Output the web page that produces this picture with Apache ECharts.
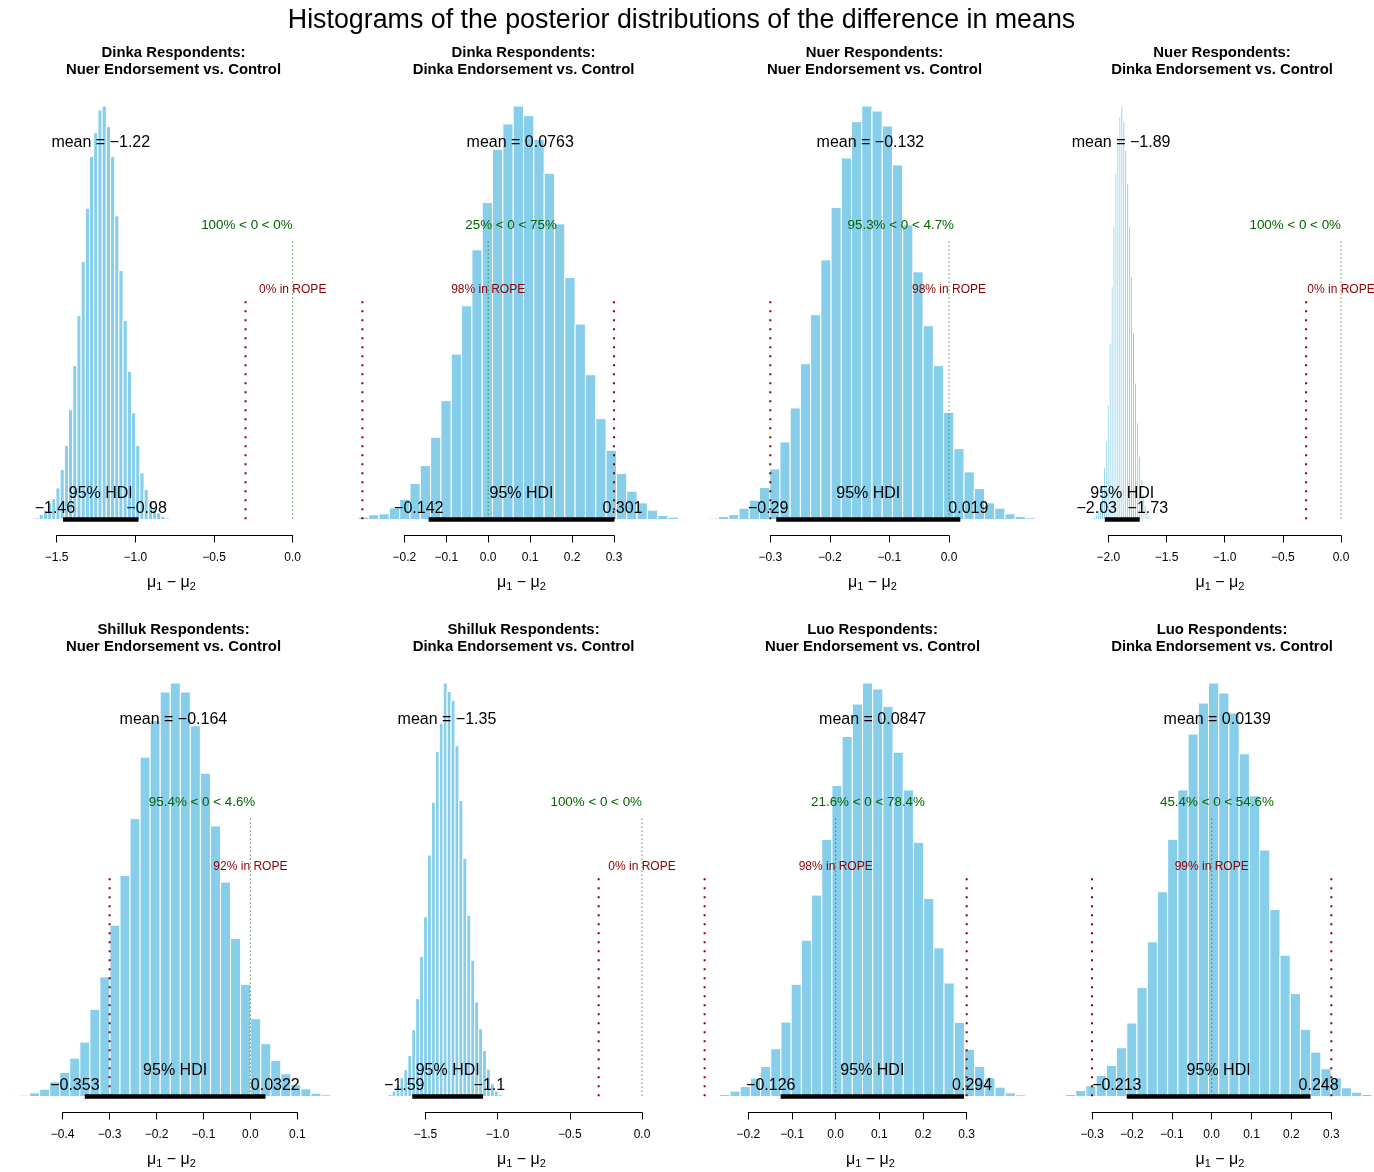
<!DOCTYPE html>
<html>
<head>
<meta charset="utf-8">
<title>Posterior difference in means</title>
<script src="https://cdn.jsdelivr.net/npm/echarts@6/dist/echarts.min.js"></script>
<style>
  html, body { margin: 0; padding: 0; background: #ffffff; }
  #chart { width: 1374px; height: 1172px; }
</style>
</head>
<body>
<div id="chart"></div>
<script>
// ---------------- data ----------------
const mainTitle = 'Histograms of the posterior distributions of the difference in means';

const respondentGroups = [
  'Dinka Respondents:', 'Dinka Respondents:', 'Nuer Respondents:', 'Nuer Respondents:',
  'Shilluk Respondents:', 'Shilluk Respondents:', 'Luo Respondents:', 'Luo Respondents:'
];
const comparisons = [
  'Nuer Endorsement vs. Control', 'Dinka Endorsement vs. Control',
  'Nuer Endorsement vs. Control', 'Dinka Endorsement vs. Control',
  'Nuer Endorsement vs. Control', 'Dinka Endorsement vs. Control',
  'Nuer Endorsement vs. Control', 'Dinka Endorsement vs. Control'
];

const posteriorMeans = [-1.22, 0.0763, -0.132, -1.89, -0.164, -1.35, 0.0847, 0.0139];
const hdiLower = [-1.46, -0.142, -0.29, -2.03, -0.353, -1.59, -0.126, -0.213];
const hdiUpper = [-0.98, 0.301, 0.019, -1.73, 0.0322, -1.1, 0.294, 0.248];
const pctBelowComp = [100, 25, 95.3, 100, 95.4, 100, 21.6, 45.4];
const pctAboveComp = [0, 75, 4.7, 0, 4.6, 0, 78.4, 54.6];
const pctInRope = [0, 98, 98, 0, 92, 0, 98, 99];
const compValue = 0;
const ropeLimits = [-0.3, 0.3];

// histogram breaks: first break and bin width of each panel
const binStarts = [-1.638, -0.3095, -0.404, -2.125, -0.5135, -1.757, -0.2885, -0.392];
const binWidths = [0.02667, 0.02461, 0.01717, 0.01667, 0.02142, 0.02722, 0.02333, 0.02561];

// relative bin heights (tallest bin of each panel about 1240)
const histDinkaNuer = [5, 15, 28, 50, 62, 95, 150, 222, 330, 462, 612, 775, 935, 1090, 1162, 1230,
  1242, 1180, 1090, 912, 748, 598, 445, 320, 222, 140, 90, 50, 32, 20, 10, 5];
const histDinkaDinka = [7, 14, 17, 35, 60, 108, 162, 247, 357, 497, 642, 810, 952, 1112, 1188, 1242,
  1213, 1142, 1040, 888, 727, 587, 435, 303, 208, 138, 85, 50, 28, 12, 7];
const histNuerNuer = [4, 9, 15, 34, 58, 96, 152, 233, 335, 468, 615, 780, 937, 1086, 1195, 1242,
  1227, 1182, 1065, 885, 744, 582, 462, 322, 213, 143, 93, 50, 34, 17, 9, 5];
const histNuerDinka = [8, 15, 28, 50, 95, 155, 235, 345, 530, 700, 880, 1040, 1150, 1210, 1242,
  1195, 1110, 1010, 880, 730, 560, 410, 290, 190, 120, 75, 42, 22, 12, 6];
const histShillukNuer = [2, 4, 11, 22, 44, 72, 115, 163, 261, 358, 513, 662, 832, 1016, 1126, 1211,
  1238, 1211, 1110, 968, 810, 642, 473, 336, 233, 158, 108, 68, 36, 23, 10, 5];
const histShillukDinka = [6, 16, 33, 56, 81, 123, 200, 293, 420, 538, 723, 881, 1033, 1118, 1238,
  1213, 1186, 1050, 886, 713, 543, 408, 283, 203, 138, 82, 38, 16, 6, 2];
const histLuoNuer = [2, 6, 16, 30, 55, 90, 143, 223, 336, 468, 603, 770, 931, 1078, 1175, 1238,
  1220, 1168, 1031, 918, 761, 593, 445, 340, 222, 141, 90, 56, 28, 11, 5, 2];
const histLuoDinka = [2, 6, 18, 32, 63, 93, 146, 220, 326, 463, 613, 770, 918, 1085, 1178, 1238,
  1208, 1148, 1026, 900, 738, 560, 423, 308, 201, 133, 83, 56, 26, 13, 6];

// x-axis ticks of each panel
const tickMin = [-1.5, -0.2, -0.3, -2.0, -0.4, -1.5, -0.2, -0.3];
const tickMax = [0.0, 0.3, 0.0, 0.0, 0.1, 0.0, 0.3, 0.3];
const tickStep = [0.5, 0.1, 0.1, 0.5, 0.1, 0.5, 0.1, 0.1];

// ---------------- layout ----------------
const axisLeftPx = [56.7, 404.3, 770.3, 1108.3, 62.7, 425.3, 748.3, 1092];
const axisRightPx = [292.7, 614, 949, 1341, 297.3, 642, 966.7, 1331.3];
const panelCenterX = [173.5, 523.5, 874.5, 1222, 173.5, 523.5, 872.5, 1222];
const rowOffset = [0, 577];
const PEAK_Y = 106;
const AXIS_Y = 535.5;
const AXIS_DROP = 0.0387;     // gap between zero line and axis, as share of the peak

const FONT = '"Liberation Sans", Arial, Helvetica, sans-serif';
const BAR_FILL = '#87CEEB';
const CV_COLOR = '#006400';
const ROPE_COLOR = '#8B0000';

const measureCtx = document.createElement('canvas').getContext('2d');
function textWidth(str, font) {
  measureCtx.font = font;
  return measureCtx.measureText(str).width;
}
function num(v) { return String(v).replace('-', '\u2212'); }
function tickText(v) {
  if (Math.abs(v) < 1e-9) return '0.0';
  return (v < 0 ? '\u2212' : '') + Math.abs(v).toFixed(1);
}
// text element anchored at a fraction of its own width
function textAt(str, x, y, size, color, frac, weight) {
  const font = (weight ? weight + ' ' : '') + size + 'px ' + FONT;
  const w = textWidth(str, font);
  return {
    type: 'text',
    style: {
      text: str, x: x - frac * w, y: y, font: font, fill: color,
      align: 'left', verticalAlign: 'middle', textAlign: 'left', textVerticalAlign: 'middle'
    }
  };
}
function centeredText(str, x, y, font) {
  return {
    type: 'text', x: x, y: y,
    style: {
      text: str, font: font, fill: '#000',
      align: 'center', verticalAlign: 'middle', textAlign: 'center', textVerticalAlign: 'middle'
    }
  };
}

const histograms = [histDinkaNuer, histDinkaDinka, histNuerNuer, histNuerDinka,
  histShillukNuer, histShillukDinka, histLuoNuer, histLuoDinka];

const grid = [], xAxis = [], yAxis = [], series = [], graphic = [];

graphic.push(centeredText(mainTitle, 681.5, 20.5, '26.8px ' + FONT));

histograms.forEach(function (counts, i) {
  const dy = rowOffset[Math.floor(i / 4)];
  const peak = Math.max.apply(null, counts);
  const start = binStarts[i], width = binWidths[i];

  grid.push({
    left: axisLeftPx[i], top: PEAK_Y + dy,
    width: axisRightPx[i] - axisLeftPx[i], height: AXIS_Y - PEAK_Y,
    containLabel: false, outerBoundsMode: 'none'
  });
  xAxis.push({
    type: 'value', gridIndex: i,
    min: tickMin[i], max: tickMax[i], interval: tickStep[i],
    axisLine: { show: true, onZero: false, lineStyle: { color: '#000', width: 1 } },
    axisTick: { show: true, inside: false, length: 7, lineStyle: { color: '#000', width: 1 } },
    axisLabel: {
      show: true, margin: 16.5, fontSize: 12, fontFamily: FONT, color: '#000',
      formatter: tickText, showMinLabel: true, showMaxLabel: true, hideOverlap: false
    },
    splitLine: { show: false }
  });
  yAxis.push({
    type: 'value', gridIndex: i, show: false,
    min: -peak * AXIS_DROP, max: peak, splitLine: { show: false }
  });

  // histogram bins
  series.push({
    type: 'custom', xAxisIndex: i, yAxisIndex: i, clip: false, silent: true,
    dimensions: ['from', 'to', 'height'],
    encode: { x: [0, 1], y: 2 },
    data: counts.map(function (c, k) { return [start + k * width, start + (k + 1) * width, c]; }),
    renderItem: function (params, api) {
      const p0 = api.coord([api.value(0), 0]);
      const p1 = api.coord([api.value(1), api.value(2)]);
      return {
        type: 'rect',
        shape: { x: p0[0], y: p1[1], width: p1[0] - p0[0], height: p0[1] - p1[1] },
        style: { fill: BAR_FILL, stroke: '#ffffff', lineWidth: 1 }
      };
    }
  });

  // x range of the plotting region (samples and comparison value, padded)
  const lo = Math.min(start, compValue);
  const hi = Math.max(start + counts.length * width, compValue);
  const pad = 0.04 * (hi - lo);

  // HDI, comparison value, ROPE and their texts
  series.push({
    type: 'custom', xAxisIndex: i, yAxisIndex: i, clip: false, silent: true,
    encode: { x: 0, y: 1 },
    data: [[posteriorMeans[i], peak]],
    renderItem: function (params, api) {
      const children = [];
      const base = api.coord([compValue, 0])[1];
      const yAt = function (f) { return api.coord([compValue, f * peak])[1]; };

      // ROPE limits
      ropeLimits.forEach(function (r) {
        if (r < lo - pad || r > hi + pad) return;
        const x = api.coord([r, 0])[0];
        children.push({
          type: 'line',
          shape: { x1: x, y1: yAt(0.55 * 0.96), x2: x, y2: base },
          style: { stroke: ROPE_COLOR, lineWidth: 2, lineDash: [2, 7], lineCap: 'butt' }
        });
      });
      const xr = api.coord([(ropeLimits[0] + ropeLimits[1]) / 2, 0])[0];
      children.push(textAt(pctInRope[i] + '% in ROPE', xr, yAt(0.55) - 2.5, 12, ROPE_COLOR, 0.5));

      // comparison value
      const xc = api.coord([compValue, 0])[0];
      children.push({
        type: 'line',
        shape: { x1: xc, y1: yAt(0.7 * 0.96), x2: xc, y2: base },
        style: { stroke: CV_COLOR, lineWidth: 1, lineDash: [1, 3], lineCap: 'butt' }
      });
      children.push(textAt(pctBelowComp[i] + '% < ' + compValue + ' < ' + pctAboveComp[i] + '%',
        xc, yAt(0.7) - 5, 13.4, CV_COLOR, pctBelowComp[i] / 100));

      // mean
      const xm = api.coord([posteriorMeans[i], 0])[0];
      children.push(textAt('mean = ' + num(posteriorMeans[i]), xm, yAt(0.9) - 5, 16, '#000', 0.5));

      // HDI
      const a = api.coord([hdiLower[i], 0]);
      const b = api.coord([hdiUpper[i], 0]);
      children.push({
        type: 'line',
        shape: { x1: a[0], y1: base, x2: b[0], y2: base },
        style: { stroke: '#000', lineWidth: 4.5, lineCap: 'butt' }
      });
      const xh = api.coord([(hdiLower[i] + hdiUpper[i]) / 2, 0])[0];
      children.push(textAt('95% HDI', xh, base - 26, 16, '#000', 0.5));
      children.push(textAt(num(hdiLower[i]), a[0], base - 11, 16, '#000', 0.7));
      children.push(textAt(num(hdiUpper[i]), b[0], base - 11, 16, '#000', 0.3));

      return { type: 'group', children: children };
    }
  });

  // panel titles
  graphic.push(centeredText(respondentGroups[i], panelCenterX[i], 52.5 + dy, 'bold 14.9px ' + FONT));
  graphic.push(centeredText(comparisons[i], panelCenterX[i], 69.5 + dy, 'bold 14.9px ' + FONT));

  // x-axis label: mu1 - mu2
  graphic.push({
    type: 'text', x: panelCenterX[i] - 2, y: 582.5 + dy,
    style: {
      text: '{m|\u03BC}{s|1}{m| \u2212 \u03BC}{s|2}',
      align: 'center', verticalAlign: 'middle', textAlign: 'center', textVerticalAlign: 'middle',
      rich: {
        m: { fontSize: 16, fontFamily: FONT, color: '#000', fill: '#000', lineHeight: 20 },
        s: { fontSize: 11, fontFamily: FONT, color: '#000', fill: '#000', lineHeight: 10, verticalAlign: 'bottom' }
      }
    }
  });
});

const chart = echarts.init(document.getElementById('chart'), null, { renderer: 'canvas' });
chart.setOption({
  backgroundColor: '#ffffff',
  animation: false,
  grid: grid,
  xAxis: xAxis,
  yAxis: yAxis,
  series: series,
  graphic: graphic
});
</script>
</body>
</html>
